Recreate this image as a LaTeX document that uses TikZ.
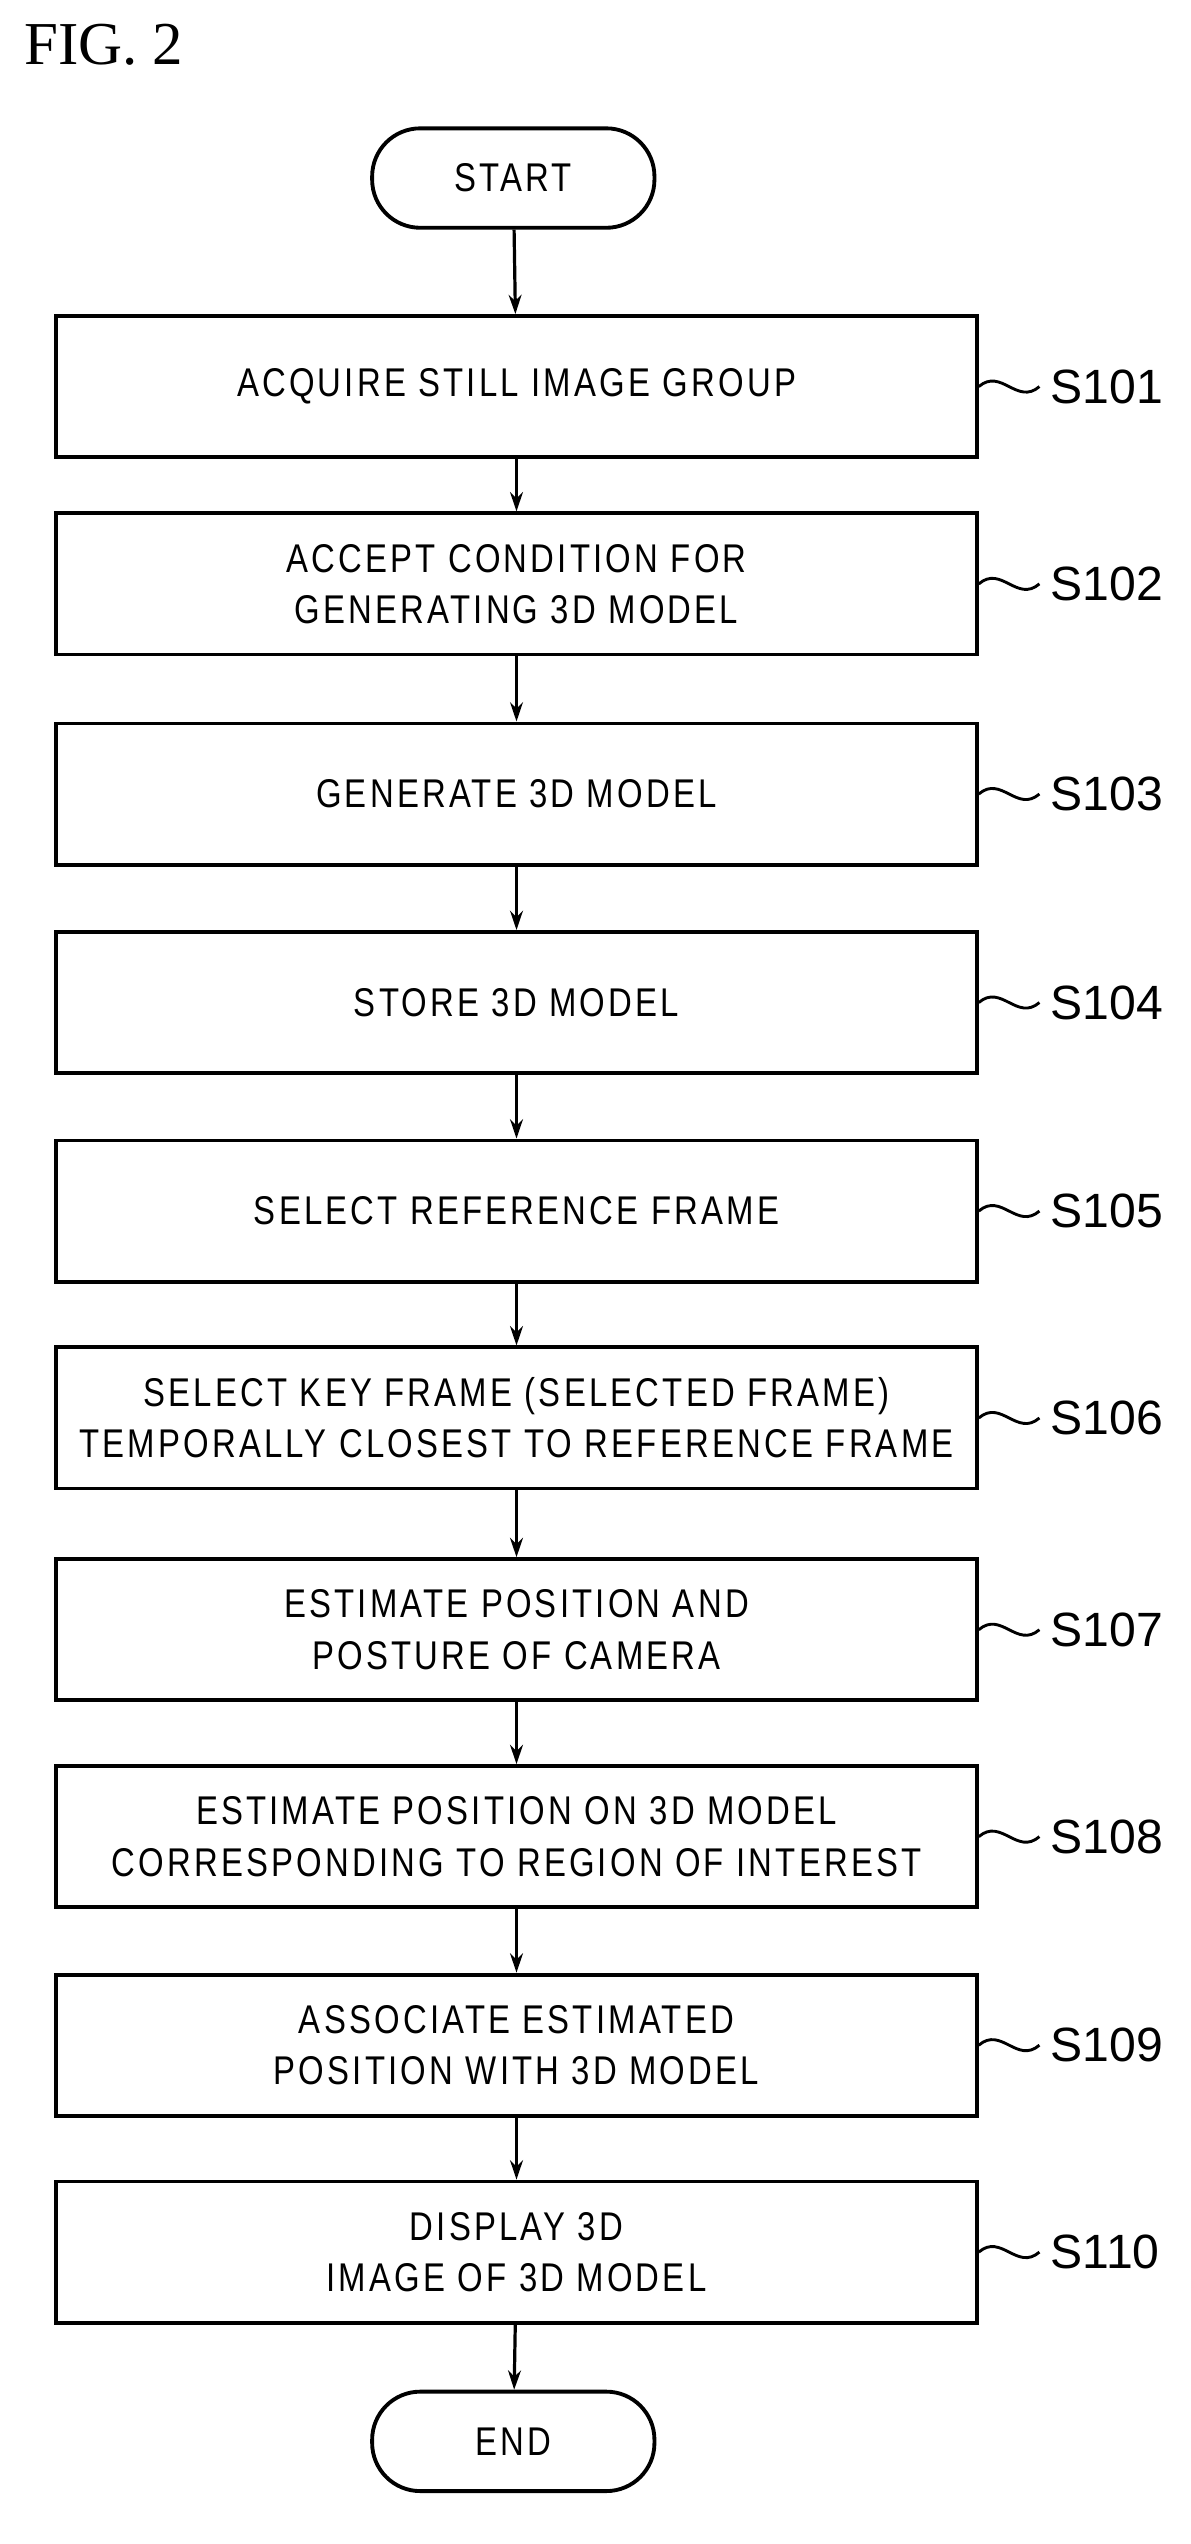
\documentclass[tikz,border=0pt]{standalone}
\usepackage{fontspec}
\setmainfont{Liberation Serif}
\setsansfont{Liberation Sans}
\newfontfamily\boxfont[LetterSpace=8,FakeStretch=0.82]{Liberation Sans}
\usetikzlibrary{arrows.meta}
\begin{document}
\begin{tikzpicture}[x=0.5pt,y=-0.5pt,
  stepbox/.style={draw,line width=1.2pt,minimum width=287pt,minimum height=44pt,align=center,font=\boxfont\fontsize{12.5pt}{16pt}\selectfont},
  term/.style={draw,line width=1.2pt,rounded corners=15pt,minimum width=88pt,minimum height=31pt,font=\boxfont\fontsize{12.5pt}{14pt}\selectfont},
  lab/.style={font=\sffamily\fontsize{15pt}{18pt}\selectfont,anchor=west},
  arr/.style={line width=1pt,-{Stealth[length=6pt,width=4pt]}},
  wav/.style={line width=0.9pt}]
\useasboundingbox (0,0) rectangle (742,1586);
\node[font=\rmfamily\fontsize{19pt}{22pt}\selectfont,anchor=north west] (fig) at (8,8) {FIG. 2};
\node[term] (st) at (320,111) {START};
\foreach \n/\y/\t in {1/241/ACQUIRE STILL IMAGE GROUP,
  2/364/ACCEPT CONDITION FOR\\GENERATING 3D MODEL,
  3/495/GENERATE 3D MODEL,
  4/625/STORE 3D MODEL,
  5/755/SELECT REFERENCE FRAME,
  6/884/SELECT KEY FRAME (SELECTED FRAME)\\TEMPORALLY CLOSEST TO REFERENCE FRAME,
  7/1016/ESTIMATE POSITION AND\\POSTURE OF CAMERA,
  8/1145/ESTIMATE POSITION ON 3D MODEL\\CORRESPONDING TO REGION OF INTEREST,
  9/1275/ASSOCIATE ESTIMATED\\POSITION WITH 3D MODEL,
  10/1404/DISPLAY 3D\\IMAGE OF 3D MODEL}{
  \node[stepbox] (b\n) at (322,\y) {\t};
  \pgfmathtruncatemacro\num{100+\n}
  \node[lab] (l\n) at (648,\y) {S\num};
  \draw[wav] (b\n.east) .. controls +(14,-12) and +(-14,12) .. (l\n.west);
}
\node[term] (en) at (320,1522) {END};
\draw[arr] (st) -- (b1);
\foreach \a/\b in {1/2,2/3,3/4,4/5,5/6,6/7,7/8,8/9,9/10}{\draw[arr] (b\a) -- (b\b);}
\draw[arr] (b10) -- (en);
\end{tikzpicture}
\end{document}
